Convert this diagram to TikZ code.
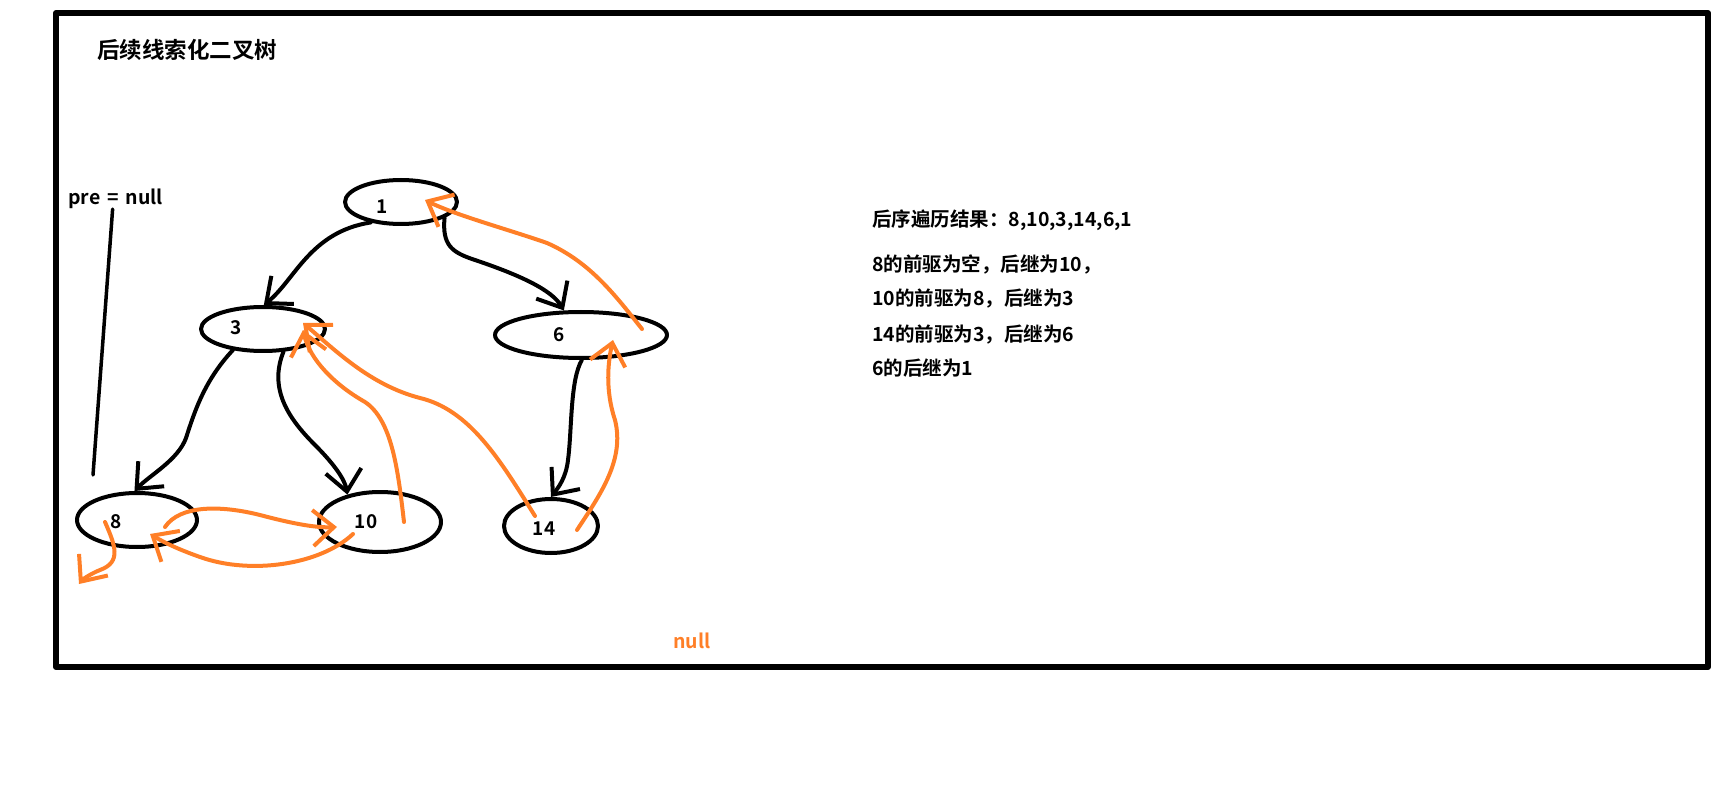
\documentclass[tikz,border=0pt]{standalone}
\usepackage{fontspec}
\setmainfont{Noto Sans CJK SC}[BoldFont={Noto Sans CJK SC Bold}]
\usepackage{tikz}
\usetikzlibrary{arrows.meta, shapes.geometric}

\definecolor{paintorange}{RGB}{255,127,39}

\tikzset{
  tnode/.style={draw, ellipse, line width=4pt, inner sep=0pt},
  lbl/.style={font=\bfseries\fontsize{19}{22}\selectfont},
  txt/.style={font=\bfseries\fontsize{19.5}{23}\selectfont, anchor=west, inner sep=0pt},
  thread/.style={->, paintorange, line width=4pt},
  child/.style={->, line width=4pt}
}

\begin{document}
\begin{tikzpicture}[x=1pt, y=-1pt, >={Straight Barb[length=21pt, width=36pt]},
                    line cap=round, line join=round]

\useasboundingbox (0,0) rectangle (1732,791);
\draw[line width=6pt] (56,13) rectangle (1708,667);

% Texts
\node[font=\bfseries\fontsize{22.5}{26}\selectfont] (title) at (187,50) {后续线索化二叉树};
\node[txt] (pre) at (68,199) {pre\hspace{7pt}=\hspace{7pt}null};
\node[txt] (res) at (872,220) {后序遍历结果：8,10,3,14,6,1};
\node[txt] (s8) at (872,264) {8的前驱为空，后继为10，};
\node[txt] (s10) at (872,298) {10的前驱为8，后继为3};
\node[txt] (s14) at (872,334) {14的前驱为3，后继为6};
\node[txt] (s6) at (872,368) {6的后继为1};
\node[txt, anchor=center, paintorange] (nul) at (692,641) {null};

% Nodes
\node[tnode, minimum width=112pt, minimum height=44pt,
      label={[lbl, xshift=-19pt, yshift=-5pt]center:1}] (n1) at (401,202) {};
\node[tnode, minimum width=124pt, minimum height=44pt,
      label={[lbl, xshift=-27pt, yshift=1pt]center:3}] (n3) at (263,329) {};
\node[tnode, minimum width=172pt, minimum height=46pt,
      label={[lbl, xshift=-22pt]center:6}] (n6) at (581,335) {};
\node[tnode, minimum width=120pt, minimum height=54pt,
      label={[lbl, xshift=-21pt, yshift=-2pt]center:8}] (n8) at (137,520) {};
\node[tnode, minimum width=122pt, minimum height=60pt,
      label={[lbl, xshift=-14pt]center:10}] (n10) at (380,522) {};
\node[tnode, minimum width=94pt, minimum height=54pt,
      label={[lbl, xshift=-7pt, yshift=-3pt]center:14}] (n14) at (551,526) {};

\coordinate (nullend) at (79,584);

% Arrows - children
\draw[child] (n1.214) .. controls (310,232) and (295,280) .. (n3.88);
\draw[child] (n1.340) .. controls (442,245) and (452,252) .. (472,259)
                      .. controls (520,275) and (552,290) .. (n6.125);
\draw[child] (n3.215) .. controls (205,380) and (195,410) .. (186,438)
                      .. controls (178,460) and (150,475) .. (n8.95);
\draw[child] (n3.312) .. controls (268,390) and (290,420) .. (315,445)
                      .. controls (335,465) and (345,480) .. (n10.140);
\draw[child] (n6.272) .. controls (570,380) and (572,430) .. (568,460)
                      .. controls (566,478) and (558,488) .. (n14.90);
\draw[line width=3.5pt] ([xshift=-3pt]pre.south) -- (93,475);

% Arrows - threads
\draw[thread] ([xshift=61pt, yshift=6pt]n6.center) .. controls (615,295) and (590,262) .. (547,243)
              .. controls (510,230) and (455,215) .. ([xshift=24pt, yshift=2pt]n1.center);
\draw[thread] ([xshift=26pt, yshift=-4pt]n14.center) .. controls (600,495) and (625,460) .. (615,420)
              .. controls (605,390) and (608,362) .. ([xshift=32pt, yshift=-5pt]n6.center);
\draw[thread] ([xshift=-16pt, yshift=10pt]n14.center) .. controls (500,460) and (470,410) .. (420,398)
              .. controls (370,385) and (335,350) .. ([xshift=40pt, yshift=6pt]n3.center);
\draw[thread] ([xshift=24pt]n10.center) .. controls (398,470) and (392,420) .. (365,402)
              .. controls (335,385) and (310,360) .. ([xshift=40pt, yshift=-1pt]n3.center);
\draw[thread] ([xshift=28pt, yshift=-7pt]n8.center) .. controls (180,505) and (220,505) .. (260,515)
              .. controls (290,523) and (315,528) .. ([xshift=-43pt, yshift=-5pt]n10.center);
\draw[thread] ([xshift=-27pt, yshift=-12pt]n10.center) .. controls (320,565) and (250,575) .. (200,557)
              .. controls (180,550) and (165,543) .. ([xshift=13pt, yshift=-14pt]n8.center);
\draw[thread] ([xshift=-32pt, yshift=-2pt]n8.center) .. controls (115,545) and (122,562) .. (100,570)
              .. controls (90,574) and (82,580) .. (nullend);

\end{tikzpicture}
\end{document}
